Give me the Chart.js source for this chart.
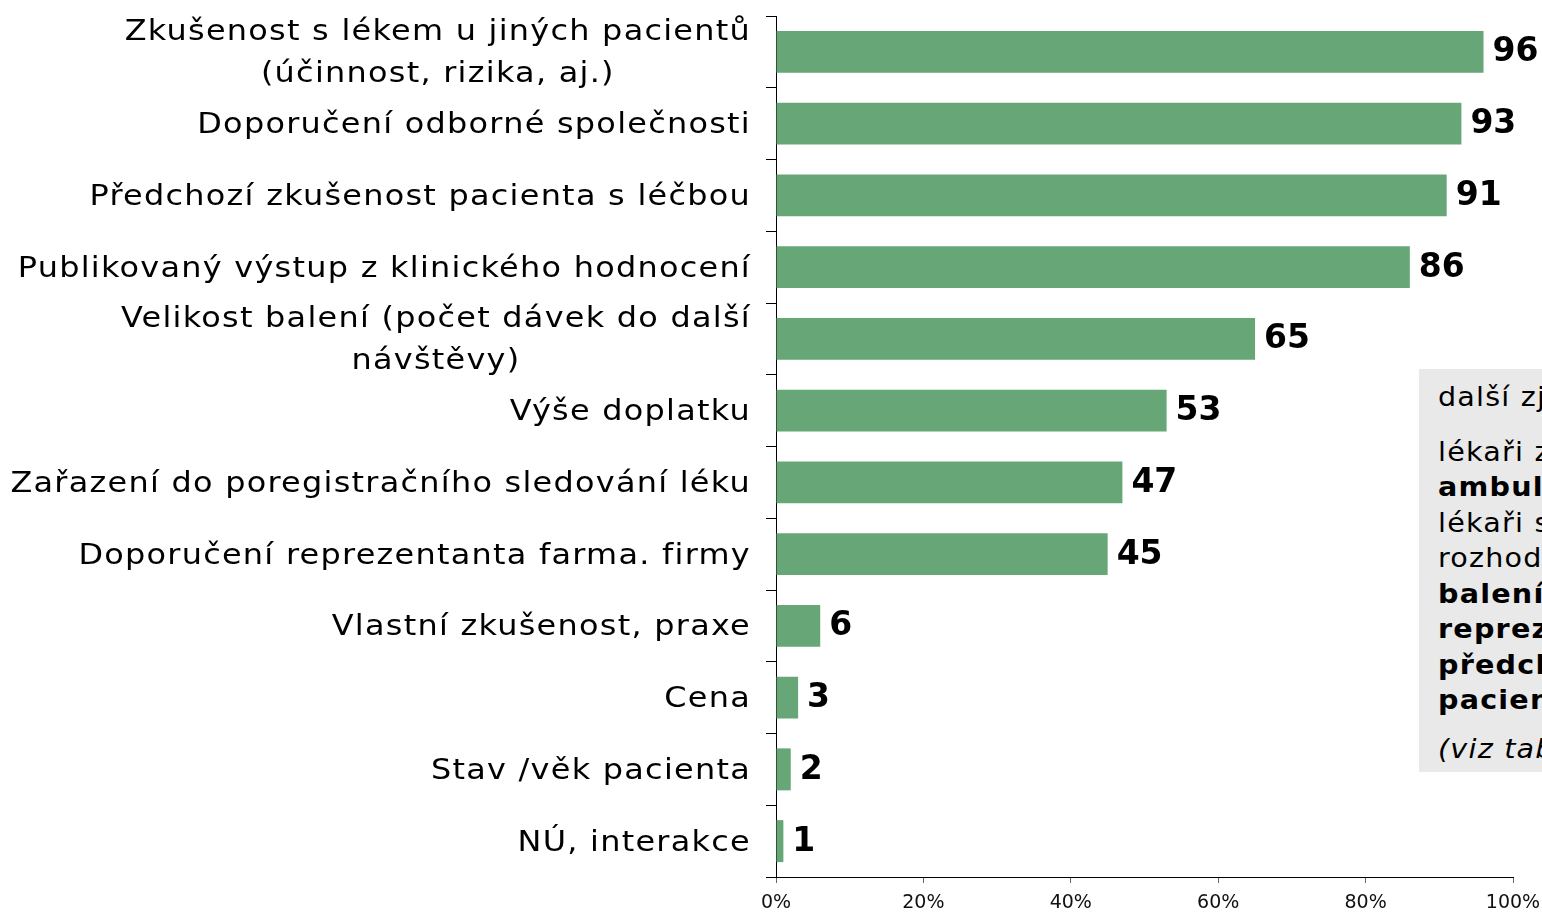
<!DOCTYPE html>
<html>
<head>
<meta charset="utf-8">
<script src="https://cdn.jsdelivr.net/npm/chart.js@4"></script>
<style>
  html, body { margin: 0; padding: 0; background: #fff; overflow: hidden; }
  #wrap { position: relative; width: 1542px; height: 916px; }
  #note {
    position: absolute; left: 1419px; top: 369px; width: 200px; height: 403px;
    background: #e9e9e9; overflow: hidden;
    font-family: "DejaVu Sans", Verdana, sans-serif; font-size: 26px; color: #000;
    padding-left: 19px; box-sizing: border-box; white-space: nowrap;
  }
  #note .inner { transform: scaleX(1.1); transform-origin: 0 0; letter-spacing: 1.1px; }
  #note p { margin: 0; line-height: 35.5px; }
</style>
</head>
<body>
<div id="wrap">
  <canvas id="chart" width="1542" height="916"></canvas>
  <div id="note"><div class="inner">
    <p style="padding-top:11px">další zjištění:</p>
    <p style="margin-top:19px">lékaři z nemocnic i<br><b>ambulancí</b> se shodují;<br>lékaři s delší praxí<br>rozhodují více podle<br><b>balení,</b><br><b>reprezentanta</b> a<br><b>předchozí zkušenosti</b><br><b>pacienta</b></p>
    <p style="margin-top:13px"><i>(viz tabulky)</i></p>
  </div></div>
</div>
<script>
const categories = [
  ['Zkušenost s lékem u jiných pacientů', '(účinnost, rizika, aj.)'],
  ['Doporučení odborné společnosti'],
  ['Předchozí zkušenost pacienta s léčbou'],
  ['Publikovaný výstup z klinického hodnocení'],
  ['Velikost balení (počet dávek do další', 'návštěvy)'],
  ['Výše doplatku'],
  ['Zařazení do poregistračního sledování léku'],
  ['Doporučení reprezentanta farma. firmy'],
  ['Vlastní zkušenost, praxe'],
  ['Cena'],
  ['Stav /věk pacienta'],
  ['NÚ, interakce']
];
const values = [96, 93, 91, 86, 65, 53, 47, 45, 6, 3, 2, 1];
const xTicks = [0, 20, 40, 60, 80, 100];

const FONT = '"DejaVu Sans", Verdana, sans-serif';

// category labels: block right-aligned, lines centred to each other
const categoryLabels = {
  id: 'categoryLabels',
  afterDraw(chart) {
    const ctx = chart.ctx;
    const y = chart.scales.y;
    const sx = 1.1, lh = 42;
    ctx.save();
    ctx.translate(751, 0);
    ctx.scale(sx, 1);
    ctx.font = '29px ' + FONT;
    ctx.letterSpacing = '1.15px';
    ctx.fillStyle = '#000';
    ctx.textAlign = 'center';
    ctx.textBaseline = 'middle';
    categories.forEach((lines, i) => {
      const cy = y.getPixelForValue(i) + 2;
      const w = Math.max(...lines.map(l => ctx.measureText(l).width));
      const top = cy - (lines.length - 1) * lh / 2;
      lines.forEach((l, j) => ctx.fillText(l, -w / 2, top + j * lh));
    });
    ctx.restore();
  }
};

const valueLabels = {
  id: 'valueLabels',
  afterDatasetsDraw(chart) {
    const ctx = chart.ctx;
    const meta = chart.getDatasetMeta(0);
    ctx.save();
    ctx.font = 'bold 33px ' + FONT;
    ctx.fillStyle = '#000';
    ctx.textAlign = 'left';
    ctx.textBaseline = 'middle';
    meta.data.forEach((bar, i) => {
      ctx.fillText(String(values[i]), bar.x + 9, bar.y + 1);
    });
    ctx.restore();
  }
};

new Chart(document.getElementById('chart').getContext('2d'), {
  type: 'bar',
  data: {
    labels: categories.map(c => c.join(' ')),
    datasets: [{
      data: values,
      backgroundColor: '#66a677',
      borderWidth: 0,
      categoryPercentage: 1,
      barPercentage: 0.585
    }]
  },
  options: {
    indexAxis: 'y',
    responsive: false,
    animation: false,
    layout: { padding: { top: 16, right: 29, left: 0, bottom: 0 } },
    plugins: { legend: { display: false }, tooltip: { enabled: false } },
    scales: {
      y: {
        offset: true,
        grid: { offset: true, drawOnChartArea: false, color: '#000', tickLength: 10, tickColor: '#000' },
        border: { color: '#000', width: 1 },
        ticks: { display: false },
        afterFit(scale) { scale.width = 776; }
      },
      x: {
        min: 0,
        max: 100,
        afterBuildTicks(scale) { scale.ticks = xTicks.map(v => ({ value: v })); },
        ticks: {
          callback: v => v + '%',
          font: { family: FONT, size: 19 },
          color: '#111',
          padding: 9,
          maxRotation: 0
        },
        grid: { drawOnChartArea: false, color: '#000', tickLength: 6, tickColor: '#666' },
        border: { color: '#000', width: 1 },
        afterFit(scale) {
          scale.height = 39;
          scale.paddingLeft = 0;
          scale.paddingRight = 0;
        }
      }
    }
  },
  plugins: [categoryLabels, valueLabels]
});
</script>
</body>
</html>
